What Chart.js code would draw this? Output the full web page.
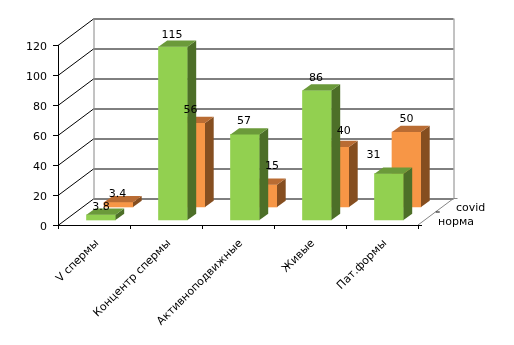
<!DOCTYPE html>
<html>
<head>
<meta charset="utf-8">
<style>html,body{margin:0;padding:0;background:#fff}canvas{display:block}</style>
<script src="https://cdn.jsdelivr.net/npm/chart.js@4"></script>
</head>
<body>
<canvas id="c" width="514" height="345"></canvas>
<script>
const categories = ['V спермы', 'Концентр спермы', 'Активноподвижные', 'Живые', 'Пат.формы'];
const normaValues = [3.8, 115, 57, 86, 31];
const covidValues = [3.4, 56, 15, 40, 50];
const seriesNames = ['норма', 'covid'];

const FONT = '11px "DejaVu Sans"';
const WALL = {dx: 35.5, dy: -26.5};
const stretch = 1.007;
const series3d = [
  {dx: 7, dy: -4.5, front: '#92D050', side: '#4D6F28', top: '#6B9A3A',
   nudge: [[0,-8],[-1,-12.7],[-1,-13.5],[-1,-13.7],[-15.6,-18.6]]},
  {dx: 24.5, dy: -17.5, front: '#F79646', side: '#854E20', top: '#B96C33',
   nudge: [[-1,-8.7],[0,-13.5],[9.5,-19],[9.2,-16],[0,-13.4]]}
];
const DEPTH = {x: 8.7, y: -6.2};

function applyShift(ctx, chart, s) {
  const zero = chart.scales.y.getPixelForValue(0);
  ctx.translate(s.dx, zero + s.dy);
  ctx.scale(1, stretch);
  ctx.translate(0, -zero);
}

const plugin3d = {
  id: 'plugin3d',
  beforeDatasetsDraw(chart) {
    const {ctx, scales: {x, y}, chartArea: a} = chart;
    ctx.save();
    ctx.lineWidth = 1;
    ctx.strokeStyle = '#000';
    y.ticks.forEach(t => {
      const py = Math.round(y.getPixelForValue(t.value)) + 0.5;
      const by = py + WALL.dy;
      ctx.beginPath();
      ctx.moveTo(a.left, py);
      ctx.lineTo(a.left + WALL.dx, by);
      ctx.lineTo(a.right + WALL.dx, by);
      ctx.stroke();
    });
    ctx.strokeStyle = '#868686';
    const bt = y.getPixelForValue(120) + WALL.dy, bb = y.getPixelForValue(0) + WALL.dy;
    [a.left + WALL.dx, a.right + WALL.dx].forEach(px => {
      ctx.beginPath();
      ctx.moveTo(px + 0.5, bt);
      ctx.lineTo(px + 0.5, bb);
      ctx.stroke();
    });
    ctx.beginPath();
    ctx.moveTo(a.right, a.bottom);
    ctx.lineTo(a.right + WALL.dx, bb);
    ctx.lineTo(a.right + WALL.dx + 4, bb);
    ctx.stroke();
    ctx.strokeStyle = '#000';
    ctx.beginPath();
    ctx.moveTo(a.right, a.bottom + 0.5);
    ctx.lineTo(a.right + 4, a.bottom + 0.5);
    ctx.moveTo(a.right + WALL.dx / 2, bb + 13.5);
    ctx.lineTo(a.right + WALL.dx / 2 + 4, bb + 13.5);
    ctx.stroke();
    ctx.fillStyle = '#000';
    ctx.font = FONT;
    ctx.textBaseline = 'middle';
    ctx.textAlign = 'left';
    ctx.fillText(seriesNames[1], 456, 208);
    ctx.fillText(seriesNames[0], 438, 222);
    ctx.restore();
  },
  beforeDatasetDraw(chart, args) {
    const {ctx} = chart;
    ctx.save();
    applyShift(ctx, chart, series3d[args.index]);
  },
  afterDatasetDraw(chart, args) {
    const {ctx} = chart;
    const s = series3d[args.index];
    args.meta.data.forEach(el => {
      const l = el.x - el.width / 2, r = el.x + el.width / 2, t = el.y, b = el.base;
      ctx.fillStyle = s.side;
      ctx.beginPath();
      ctx.moveTo(r, t); ctx.lineTo(r + DEPTH.x, t + DEPTH.y);
      ctx.lineTo(r + DEPTH.x, b + DEPTH.y); ctx.lineTo(r, b);
      ctx.closePath(); ctx.fill();
      ctx.fillStyle = s.top;
      ctx.beginPath();
      ctx.moveTo(l, t); ctx.lineTo(l + DEPTH.x, t + DEPTH.y);
      ctx.lineTo(r + DEPTH.x, t + DEPTH.y); ctx.lineTo(r, t);
      ctx.closePath(); ctx.fill();
    });
    ctx.restore();
  },
  afterDatasetsDraw(chart) {
    const {ctx} = chart;
    ctx.save();
    ctx.fillStyle = '#000';
    ctx.font = FONT;
    ctx.textAlign = 'center';
    ctx.textBaseline = 'middle';
    chart.data.datasets.forEach((ds, i) => {
      const s = series3d[i];
      chart.getDatasetMeta(i).data.forEach((el, j) => {
        const n = s.nudge[j];
        ctx.fillText(String(ds.data[j]), el.x + s.dx + n[0], el.y + s.dy + n[1]);
      });
    });
    ctx.restore();
  }
};

new Chart(document.getElementById('c'), {
  type: 'bar',
  data: {
    labels: categories,
    datasets: [
      {label: seriesNames[0], data: normaValues, backgroundColor: series3d[0].front, borderWidth: 0, grouped: false, barThickness: 29, clip: false},
      {label: seriesNames[1], data: covidValues, backgroundColor: series3d[1].front, borderWidth: 0, grouped: false, barThickness: 29, clip: false}
    ]
  },
  options: {
    responsive: false,
    animation: false,
    events: [],
    layout: {padding: {left: 0, right: 96, top: 45, bottom: 0}},
    plugins: {legend: {display: false}, tooltip: {enabled: false}},
    scales: {
      x: {
        afterFit: a => { a.height = 120; },
        border: {color: '#000', width: 1},
        grid: {display: true, drawOnChartArea: false, drawTicks: true, tickLength: 4, color: '#000', offset: true},
        ticks: {color: '#000', font: {family: 'DejaVu Sans', size: 11}, minRotation: 45, maxRotation: 45, autoSkip: false, padding: 8, labelOffset: 3}
      },
      y: {
        min: 0, max: 120,
        afterFit: a => { a.width = 58; },
        border: {color: '#000', width: 1},
        grid: {display: true, drawOnChartArea: false, drawTicks: true, tickLength: 5, color: '#000'},
        ticks: {color: '#000', font: {family: 'DejaVu Sans', size: 11}, stepSize: 20, padding: 6, labelOffset: 2.5}
      }
    }
  },
  plugins: [plugin3d]
});
</script>
</body>
</html>
